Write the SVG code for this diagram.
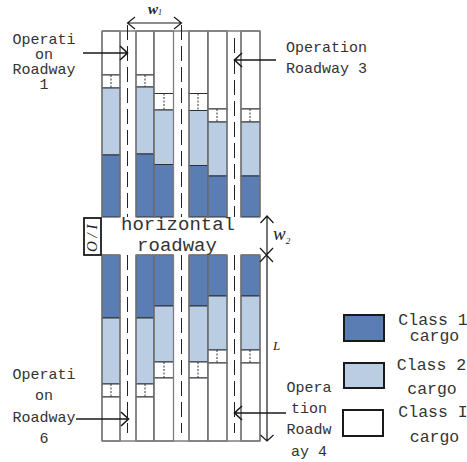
<svg xmlns="http://www.w3.org/2000/svg" width="467" height="462" viewBox="0 0 467 462">
<style>
.d{fill:#5a7eb3}.l{fill:#bbcde3}.w{fill:#fff}
.d,.l,.w{stroke:#2c3036;stroke-width:1}
.v{stroke:#7f7f7f;stroke-width:1.3;fill:none}
.dot{stroke:#333;stroke-width:1;stroke-dasharray:2 1.5;fill:none}
.dash{stroke:#222;stroke-width:1;stroke-dasharray:15 6;fill:none}
.a{stroke:#1a1a1a;stroke-width:1.2;fill:none}
.b{stroke:#1a1a1a;stroke-width:1.6;fill:none}
.t{font-family:"Liberation Mono",monospace;fill:#333;text-anchor:middle}
.s{font-size:15px}.m{font-size:16.5px}.h{font-size:19px}
.i{font-family:"Liberation Serif",serif;font-style:italic;fill:#222}
.k{stroke:#1a1a1a;stroke-width:2}
</style>
<rect width="467" height="462" fill="#fff"/>
<g id="shelves-top">
<g id="c1t"><rect class="w" x="102" y="31" width="18" height="44"/><rect class="w" x="102" y="75" width="18" height="13"/><rect class="l" x="102" y="88" width="18" height="67"/><rect class="d" x="102" y="155" width="18" height="62"/><path class="dot" d="M111 75V88"/></g>
<g id="c2t"><rect class="w" x="136" y="31" width="18" height="44"/><rect class="w" x="136" y="75" width="18" height="12"/><rect class="l" x="136" y="87" width="18" height="67"/><rect class="d" x="136" y="154" width="18" height="63"/><path class="dot" d="M145 75V87"/></g>
<g id="c3t"><rect class="w" x="154" y="31" width="19.500" height="62.500"/><rect class="w" x="154" y="93.500" width="19.500" height="16.500"/><rect class="l" x="154" y="110" width="19.500" height="54.500"/><rect class="d" x="154" y="164.500" width="19.500" height="52.500"/><path class="dot" d="M164 93.500V110"/></g>
<g id="c4t"><rect class="w" x="189" y="31" width="19" height="62.500"/><rect class="w" x="189" y="93.500" width="19" height="17"/><rect class="l" x="189" y="110.500" width="19" height="55"/><rect class="d" x="189" y="165.500" width="19" height="51.500"/><path class="dot" d="M198 93.500V110"/></g>
<g id="c5t"><rect class="w" x="208" y="31" width="19" height="78"/><rect class="w" x="208" y="109" width="19" height="13"/><rect class="l" x="208" y="122" width="19" height="54"/><rect class="d" x="208" y="176" width="19" height="41"/><path class="dot" d="M217 109V122"/></g>
<g id="c6t"><rect class="w" x="241" y="31" width="19" height="78"/><rect class="w" x="241" y="109" width="19" height="13"/><rect class="l" x="241" y="122" width="19" height="54"/><rect class="d" x="241" y="176" width="19" height="41"/><path class="dot" d="M250 109V122"/></g>
</g>
<g id="shelves-bottom">
<g id="c1b"><rect class="d" x="102" y="255" width="18" height="63"/><rect class="l" x="102" y="318" width="18" height="66"/><rect class="w" x="102" y="384" width="18" height="13"/><rect class="w" x="102" y="397" width="18" height="44"/><path class="dot" d="M111 384V397"/></g>
<g id="c2b"><rect class="d" x="136" y="255" width="18" height="63"/><rect class="l" x="136" y="318" width="18" height="66"/><rect class="w" x="136" y="384" width="18" height="13"/><rect class="w" x="136" y="397" width="18" height="44"/><path class="dot" d="M145 384V397"/></g>
<g id="c3b"><rect class="d" x="154" y="255" width="19.500" height="51"/><rect class="l" x="154" y="306" width="19.500" height="56"/><rect class="w" x="154" y="362" width="19.500" height="16"/><rect class="w" x="154" y="378" width="19.500" height="63"/><path class="dot" d="M164 362V378"/></g>
<g id="c4b"><rect class="d" x="189" y="255" width="19" height="51"/><rect class="l" x="189" y="306" width="19" height="56"/><rect class="w" x="189" y="362" width="19" height="16"/><rect class="w" x="189" y="378" width="19" height="63"/><path class="dot" d="M198 362V378"/></g>
<g id="c5b"><rect class="d" x="208" y="255" width="19" height="41"/><rect class="l" x="208" y="296" width="19" height="54"/><rect class="w" x="208" y="350" width="19" height="13"/><rect class="w" x="208" y="363" width="19" height="78"/><path class="dot" d="M217 350V363"/></g>
<g id="c6b"><rect class="d" x="241" y="255" width="19" height="41"/><rect class="l" x="241" y="296" width="19" height="54"/><rect class="w" x="241" y="350" width="19" height="13"/><rect class="w" x="241" y="363" width="19" height="78"/><path class="dot" d="M250 350V363"/></g>
</g>
<g id="connectors">
<path class="v" d="M102 31H260M102 441H260M102 31V217M120 31V217M136 31V217M154 31V217M173.500 31V217M189 31V217M208 31V217M227 31V217M241 31V217M260 31V217M102 255V441M120 255V441M136 255V441M154 255V441M173.500 255V441M189 255V441M208 255V441M227 255V441M241 255V441M260 255V441M102 255H120M136 255H173.500M189 255H227M241 255H260"/>
<path class="dash" d="M127.500 25V217M181.500 25V217M234.500 38V217M127.500 255V433M181.500 255V433M234.500 255V433"/>
<path class="a" d="M127.500 23H181.500M135 17L127.500 23L135 29M174 17L181.500 23L174 29"/>
<path class="a" d="M267 216V441M260.500 223L267 216L273.500 223M260.500 435L267 441L273.500 435M260 248L273 262M273 248L260 262"/>
<path class="b" d="M83 53H127M120 46L127.500 53L120 60"/>
<path class="b" d="M276 60H235M242 53L234.500 60L242 67"/>
<path class="b" d="M76 419H128M121 412L128.500 419L121 426"/>
<path class="b" d="M286 413H235M242 406L234.500 413L242 420"/>
</g>
<g id="o-i"><rect x="84" y="218" width="17" height="37" fill="#fff" stroke="#1a1a1a" stroke-width="1.800"/><text class="i" transform="translate(97,252) rotate(-90)" font-size="15">O / I</text></g>
<g id="labels">
<text class="t h" x="178" y="230">horizontal</text>
<text class="t h" x="177" y="251">roadway</text>
<text class="t s"><tspan x="44" y="44">Operati</tspan><tspan x="44" y="59">on</tspan><tspan x="44" y="74">Roadway</tspan><tspan x="44" y="89">1</tspan></text>
<text class="t s"><tspan x="326.500" y="52">Operation</tspan><tspan x="326.500" y="73">Roadway 3</tspan></text>
<text class="t s"><tspan x="44" y="379">Operati</tspan><tspan x="44" y="400">on</tspan><tspan x="44" y="422">Roadway</tspan><tspan x="44" y="443">6</tspan></text>
<text class="t s"><tspan x="309" y="392">Opera</tspan><tspan x="309" y="413">tion</tspan><tspan x="309" y="434">Roadw</tspan><tspan x="309" y="456">ay 4</tspan></text>
<text class="i" x="148" y="13.500" font-size="15" font-weight="bold">w<tspan font-size="8" dy="1.500" font-weight="normal">1</tspan></text>
<text class="i" x="273" y="240" font-size="19">w<tspan font-size="9" dy="4">2</tspan></text>
<text class="i" x="273" y="350" font-size="13">L</text>
</g>
<g id="legend">
<g id="lg1"><rect class="d k" x="344" y="315" width="40" height="26"/><text class="t m"><tspan x="433" y="325">Class 1</tspan><tspan x="434.500" y="341">cargo</tspan></text></g>
<g id="lg2"><rect class="l k" x="344" y="363" width="40" height="25"/><text class="t m"><tspan x="431.500" y="370">Class 2</tspan><tspan x="432" y="394">cargo</tspan></text></g>
<g id="lg3"><rect class="w k" x="343" y="410" width="40" height="26"/><text class="t m"><tspan x="433" y="417">Class I</tspan><tspan x="434.500" y="442">cargo</tspan></text></g>
</g>
</svg>
